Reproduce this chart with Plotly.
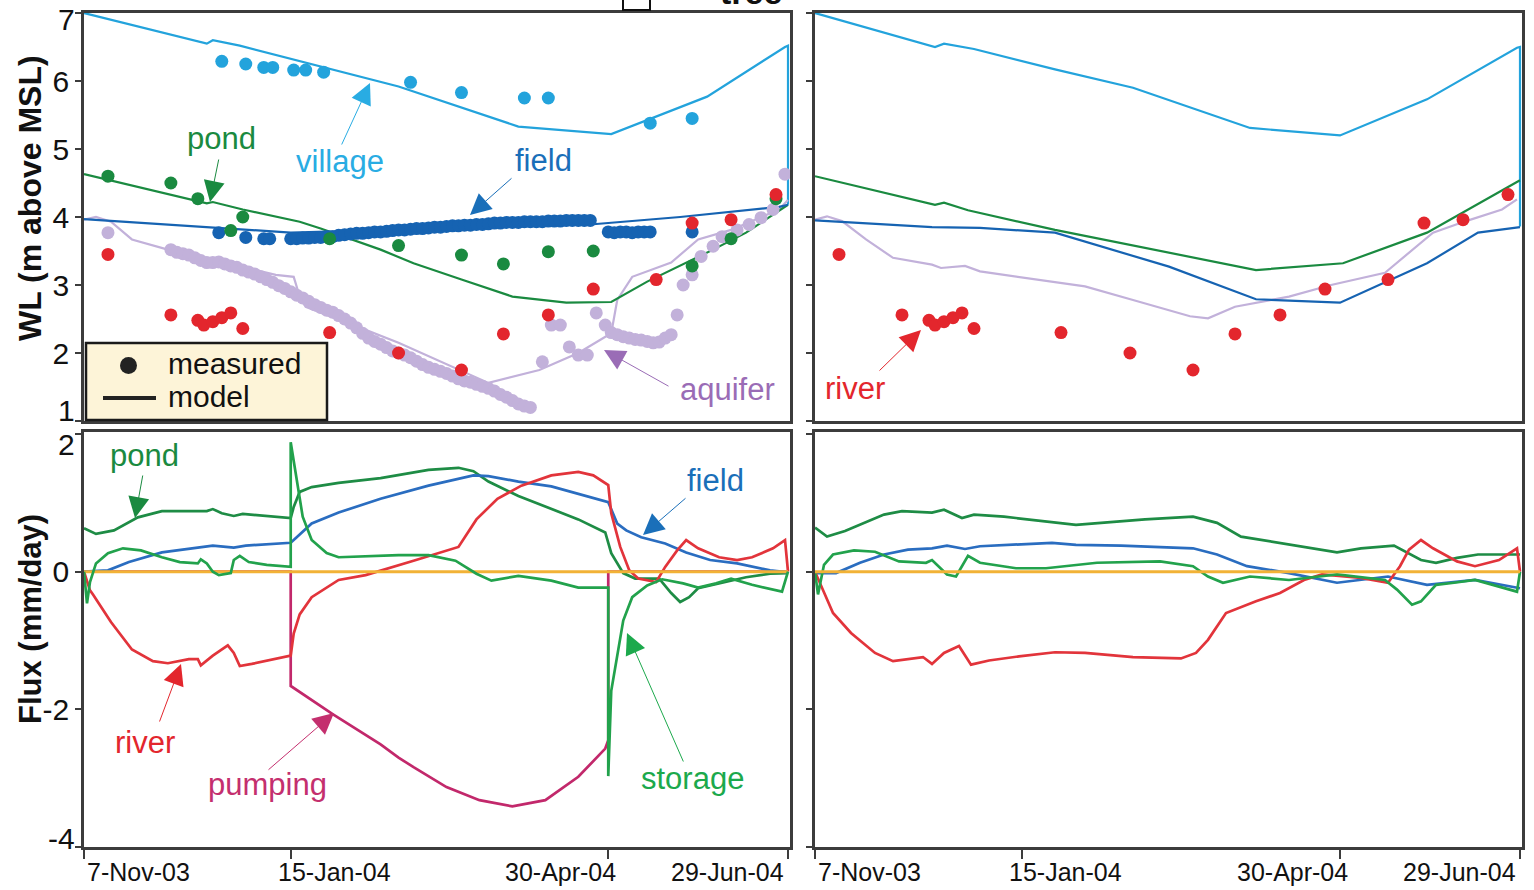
import pandas as pd
import plotly.graph_objects as go

# ------------------------------------------------------------------ data
START = pd.Timestamp("2003-11-07")
END_VIEW = "2004-06-29 16:00"
TICK_DATES = ["2003-11-07", "2004-01-15", "2004-04-30", "2004-06-29"]
TICK_LABELS = ["7-Nov-03", "15-Jan-04", "30-Apr-04", "29-Jun-04"]

# ---- Site 1 water levels (m above MSL): measured (days after 7-Nov-03)
VILLAGE_OBS_DAY = [46, 54, 60, 63, 70, 74, 80, 109, 126, 147, 155, 189, 203]
VILLAGE_OBS = [6.29, 6.25, 6.20, 6.20, 6.16, 6.16, 6.13, 5.98, 5.83, 5.75, 5.75, 5.38, 5.45]

FIELD_OBS_DAY = [45, 54, 60, 62,
                 69, 71, 73, 75, 77, 79, 81, 83, 85, 87, 89, 91, 93, 95, 97, 99,
                 101, 103, 105, 107, 109, 111, 113, 115, 117, 119, 121, 123, 125,
                 127, 129, 131, 133, 135, 137, 139, 141, 143, 145, 147, 149, 151,
                 153, 155, 157, 159, 161, 163, 165, 167, 169,
                 175, 177, 179, 181, 183, 185, 187, 189, 203]
FIELD_OBS = [3.77, 3.70, 3.68, 3.68,
             3.68, 3.68, 3.69, 3.69, 3.70, 3.70, 3.71, 3.71, 3.73, 3.74,
             3.75, 3.76, 3.76, 3.77, 3.78, 3.78, 3.79, 3.80, 3.81, 3.81,
             3.82, 3.83, 3.83, 3.84, 3.85, 3.85, 3.86, 3.87, 3.87, 3.88,
             3.88, 3.89, 3.89, 3.90, 3.91, 3.91, 3.92, 3.92, 3.92, 3.93,
             3.93, 3.93, 3.93, 3.94, 3.94, 3.94, 3.95, 3.95, 3.95, 3.95, 3.95,
             3.78, 3.77, 3.78, 3.78, 3.77, 3.78, 3.78, 3.78, 3.78]

POND_OBS_DAY = [8, 29, 38, 49, 53, 82, 105, 126, 140, 155, 170, 203, 216, 231]
POND_OBS = [4.60, 4.50, 4.27, 3.80, 4.00, 3.68, 3.58, 3.44, 3.31, 3.49, 3.50, 3.28, 3.68, 4.27]

AQUIFER_OBS_DAY = [8,
                   29, 31, 33, 35, 37, 39, 41, 43, 45, 47, 49, 51, 53, 55, 57, 59,
                   61, 63, 65, 67, 69, 71, 73, 75, 77, 79, 81, 83, 85, 87, 89, 91,
                   93, 95, 97, 99, 101, 103, 105, 107, 109, 111, 113, 115, 117, 119,
                   121, 123, 125, 127, 129, 131, 133, 135, 137, 139, 141, 143, 145,
                   147, 149,
                   153, 156, 159, 162, 165, 168, 171, 174, 176, 178, 180, 182, 184,
                   186, 188, 190, 192, 194, 196, 198, 200, 203, 206, 210, 213, 218,
                   222, 226, 230, 234]
AQUIFER_OBS = [3.77,
               3.52, 3.48, 3.46, 3.44, 3.40, 3.36, 3.33, 3.33, 3.34, 3.31,
               3.28, 3.26, 3.22, 3.19, 3.16, 3.12, 3.08, 3.04, 2.99, 2.95,
               2.90, 2.85, 2.81, 2.76, 2.71, 2.67, 2.63, 2.60, 2.55, 2.50,
               2.44, 2.37, 2.29, 2.22, 2.17, 2.13, 2.08, 2.03, 2.00, 1.97,
               1.93, 1.88, 1.83, 1.79, 1.76, 1.73, 1.70, 1.66, 1.62, 1.59,
               1.57, 1.54, 1.51, 1.48, 1.44, 1.39, 1.35, 1.30, 1.25, 1.22,
               1.20,
               1.87, 2.41, 2.41, 2.09, 1.97, 1.97, 2.59, 2.41, 2.30, 2.27,
               2.24, 2.22, 2.20, 2.19, 2.17, 2.15, 2.16, 2.22, 2.27, 2.56,
               3.00, 3.15, 3.42, 3.57, 3.71, 3.81, 3.89, 3.99, 4.11, 4.63]

# river level measured (same gauge used for both sites)
RIVER_OBS_DAY = [8, 29, 38, 40, 43, 46, 49, 53, 82, 105, 126, 140, 155, 170, 191, 203, 216, 231]
RIVER_OBS = [3.45, 2.56, 2.48, 2.41, 2.46, 2.52, 2.59, 2.36, 2.30, 2.00, 1.75, 2.28,
             2.56, 2.94, 3.08, 3.91, 3.96, 4.33]

# ---- Site 1 water levels: model
VILLAGE_1_DAY = [0, 40, 41, 43, 52, 105, 145, 176, 208, 234, 235, 235]
VILLAGE_1 = [7.00, 6.57, 6.55, 6.60, 6.52, 5.92, 5.33, 5.22, 5.77, 6.50, 6.52, 4.18]
FIELD_1_DAY = [0, 43, 69, 169, 199, 232, 235]
FIELD_1 = [3.97, 3.85, 3.77, 3.89, 4.00, 4.15, 4.18]
POND_1_DAY = [0, 39, 41, 43, 53, 72, 79, 99, 110, 126, 143, 161, 176, 188, 210, 221, 235]
POND_1 = [4.63, 4.23, 4.20, 4.22, 4.11, 3.93, 3.83, 3.52, 3.32, 3.08, 2.83, 2.74, 2.75,
          3.05, 3.52, 3.77, 4.18]
AQUIFER_1_DAY = [0, 4, 9, 16, 28, 41, 50, 64, 70, 72, 74, 83, 94, 105, 120, 135, 152,
                 165, 176, 178, 183, 196, 205, 216, 232, 235]
AQUIFER_1 = [3.96, 4.00, 3.93, 3.67, 3.52, 3.37, 3.30, 3.15, 3.12, 2.83, 2.68, 2.53,
             2.34, 2.15, 1.85, 1.56, 1.75, 2.00, 2.29, 2.78, 3.12, 3.33, 3.67, 3.81,
             4.11, 4.25]

# ---- Site 2 water levels: model
VILLAGE_2_DAY = [0, 40, 43, 53, 80, 106, 145, 175, 204, 234, 235, 235]
VILLAGE_2 = [7.00, 6.50, 6.55, 6.47, 6.17, 5.90, 5.31, 5.20, 5.73, 6.49, 6.50, 3.86]
POND_2_DAY = [0, 40, 43, 51, 80, 118, 147, 176, 204, 235]
POND_2 = [4.60, 4.18, 4.21, 4.10, 3.81, 3.47, 3.22, 3.32, 3.77, 4.54]
FIELD_2_DAY = [0, 39, 55, 80, 118, 147, 175, 204, 221, 235]
FIELD_2 = [3.95, 3.85, 3.84, 3.77, 3.27, 2.79, 2.74, 3.32, 3.77, 3.85]
AQUIFER_2_DAY = [0, 4, 9, 17, 26, 39, 42, 50, 55, 80, 90, 106, 125, 131, 140, 158, 172,
                 190, 206, 217, 229, 234]
AQUIFER_2 = [3.96, 4.01, 3.94, 3.67, 3.40, 3.30, 3.25, 3.28, 3.20, 3.05, 2.98, 2.78,
             2.54, 2.51, 2.68, 2.83, 3.00, 3.18, 3.77, 3.94, 4.11, 4.26]

# ---- Site 1 fluxes (mm/day)
POND_FLUX_1_DAY = [0, 4, 10, 18, 26, 32, 41, 43, 46, 50, 53, 69, 70, 72, 76, 85, 99, 115,
                   125, 130, 135, 145, 156, 165, 174, 176, 180, 184, 192, 196, 199, 202,
                   205, 212, 221, 229, 235]
POND_FLUX_1 = [0.63, 0.55, 0.60, 0.79, 0.88, 0.88, 0.88, 0.91, 0.85, 0.81, 0.84, 0.78,
               0.94, 1.16, 1.23, 1.29, 1.36, 1.48, 1.51, 1.46, 1.31, 1.10, 0.91, 0.76,
               0.57, 0.27, -0.02, -0.10, -0.10, -0.31, -0.44, -0.37, -0.24, -0.17,
               -0.08, -0.03, -0.02]
STORAGE_1_DAY = [0, 1, 2, 4, 8, 13, 19, 26, 32, 38, 39, 41, 43, 45, 49, 50, 52, 55, 61,
                 69, 69, 71, 73, 76, 81, 85, 105, 115, 124, 131, 136, 145, 156, 165,
                 175, 175, 176, 180, 183, 188, 193, 200, 205, 211, 216, 223, 233, 235]
STORAGE_1 = [0.00, -0.46, -0.15, 0.12, 0.27, 0.34, 0.31, 0.21, 0.14, 0.12, 0.18, 0.12,
             0.00, -0.05, -0.02, 0.17, 0.23, 0.14, 0.10, 0.07, 1.88, 1.33, 0.80, 0.46,
             0.27, 0.21, 0.24, 0.24, 0.16, -0.03, -0.13, -0.06, -0.13, -0.23, -0.23,
             -2.97, -1.73, -0.71, -0.37, -0.20, -0.11, -0.17, -0.23, -0.17, -0.10,
             -0.19, -0.29, 0.00]
FIELD_FLUX_1_DAY = [0, 8, 15, 26, 43, 50, 54, 69, 71, 76, 85, 99, 115, 130, 135, 145,
                    156, 165, 175, 178, 181, 186, 194, 201, 209, 218, 229, 235]
FIELD_FLUX_1 = [0.00, 0.02, 0.14, 0.28, 0.38, 0.35, 0.38, 0.42, 0.50, 0.70, 0.86, 1.06,
                1.25, 1.40, 1.39, 1.31, 1.24, 1.13, 1.01, 0.70, 0.60, 0.50, 0.41, 0.28,
                0.17, 0.12, 0.02, -0.01]
RIVER_FLUX_1_DAY = [0, 2, 3, 9, 16, 23, 28, 35, 38, 39, 43, 48, 50, 52, 56, 69, 70, 72,
                    76, 85, 94, 105, 110, 125, 131, 138, 146, 156, 165, 170, 175, 176,
                    179, 182, 185, 191, 194, 198, 201, 205, 212, 218, 223, 230, 234, 235]
RIVER_FLUX_1 = [0.00, -0.27, -0.33, -0.73, -1.13, -1.30, -1.33, -1.27, -1.27, -1.36,
                -1.22, -1.07, -1.18, -1.37, -1.34, -1.22, -0.90, -0.62, -0.37, -0.12,
                -0.05, 0.09, 0.16, 0.36, 0.76, 1.06, 1.25, 1.40, 1.45, 1.40, 1.26, 0.85,
                0.36, 0.02, -0.10, -0.15, 0.07, 0.31, 0.46, 0.34, 0.21, 0.17, 0.21, 0.34,
                0.46, 0.00]
PUMPING_1_DAY = [0, 69, 69, 83, 99, 105, 110, 121, 132, 143, 154, 165, 174, 175, 175, 235]
PUMPING_1 = [0.00, 0.00, -1.66, -2.07, -2.51, -2.70, -2.84, -3.13, -3.32, -3.41, -3.32,
             -2.98, -2.57, -2.45, 0.00, 0.00]

# ---- Site 2 fluxes (mm/day)
POND_FLUX_2_DAY = [0, 4, 10, 23, 29, 39, 43, 49, 53, 63, 87, 110, 126, 134, 142, 158,
                   174, 182, 193, 202, 207, 214, 221, 235]
POND_FLUX_2 = [0.64, 0.51, 0.59, 0.83, 0.88, 0.86, 0.90, 0.78, 0.83, 0.80, 0.68, 0.76,
               0.80, 0.71, 0.51, 0.39, 0.28, 0.34, 0.38, 0.17, 0.13, 0.20, 0.25, 0.25]
STORAGE_2_DAY = [0, 1, 3, 6, 13, 20, 28, 37, 39, 44, 47, 51, 55, 67, 77, 94, 115, 126,
                 131, 136, 145, 158, 174, 190, 194, 199, 202, 207, 213, 220, 234, 235]
STORAGE_2 = [0.00, -0.33, 0.10, 0.25, 0.31, 0.29, 0.15, 0.13, 0.17, -0.04, -0.07, 0.23,
             0.13, 0.05, 0.05, 0.13, 0.15, 0.08, -0.07, -0.16, -0.07, -0.12, -0.04,
             -0.12, -0.26, -0.48, -0.43, -0.19, -0.16, -0.12, -0.29, 0.00]
FIELD_FLUX_2_DAY = [0, 7, 15, 23, 31, 39, 44, 50, 55, 71, 79, 87, 102, 126, 134, 144,
                    158, 174, 182, 191, 204, 220, 235]
FIELD_FLUX_2 = [-0.02, -0.02, 0.13, 0.25, 0.32, 0.34, 0.38, 0.33, 0.37, 0.41, 0.42, 0.39,
                0.38, 0.34, 0.25, 0.08, -0.02, -0.16, -0.12, -0.07, -0.19, -0.12, -0.24]
RIVER_FLUX_2_DAY = [0, 6, 12, 20, 26, 36, 39, 43, 48, 52, 58, 68, 80, 90, 106, 122, 127,
                    131, 137, 147, 155, 163, 169, 175, 182, 191, 195, 198, 202, 206, 214,
                    220, 228, 234, 235]
RIVER_FLUX_2 = [0.00, -0.60, -0.89, -1.18, -1.30, -1.24, -1.34, -1.18, -1.08, -1.35,
                -1.29, -1.23, -1.17, -1.18, -1.24, -1.26, -1.18, -0.99, -0.60, -0.43,
                -0.31, -0.12, -0.04, -0.06, -0.09, -0.16, 0.08, 0.32, 0.46, 0.34, 0.15,
                0.08, 0.17, 0.34, 0.00]
ZERO_DAY = [0, 235]
ZERO_FLUX = [0.0, 0.0]

# ------------------------------------------------------------------ style
W, H = 1534, 890
FONT = "Liberation Sans, Arial, Helvetica, sans-serif"
C_VILLAGE = "#23a3dc"
C_FIELD = "#1663b2"
C_POND = "#1a8a40"
C_AQUIFER = "#c2b1da"
C_RIVER = "#e3262d"
C_FIELD_FLUX = "#2a6dc0"
C_RIVER_FLUX = "#e2343b"
C_POND_FLUX = "#1e8c45"
C_STORAGE = "#22a24c"
C_PUMP = "#c2286b"
C_ZERO = "#f2b236"
FRAME = "#3c3c3c"


def dates(days):
    return [START + pd.Timedelta(days=d) for d in days]


def px(x):
    return x / W


def py(y):
    return 1 - y / H


fig = go.Figure()


def line(days, vals, color, xa, ya, width=2.2):
    fig.add_trace(go.Scatter(x=dates(days), y=vals, mode="lines", xaxis=xa, yaxis=ya,
                             line=dict(color=color, width=width), showlegend=False,
                             hoverinfo="skip"))


def dots(days, vals, color, xa, ya, size=13):
    fig.add_trace(go.Scatter(x=dates(days), y=vals, mode="markers", xaxis=xa, yaxis=ya,
                             marker=dict(color=color, size=size, line=dict(width=0)),
                             showlegend=False, hoverinfo="skip"))


# top-left: site 1 water levels
line(VILLAGE_1_DAY, VILLAGE_1, C_VILLAGE, "x", "y")
line(AQUIFER_1_DAY, AQUIFER_1, C_AQUIFER, "x", "y")
line(POND_1_DAY, POND_1, C_POND, "x", "y")
line(FIELD_1_DAY, FIELD_1, C_FIELD, "x", "y")
dots(AQUIFER_OBS_DAY, AQUIFER_OBS, C_AQUIFER, "x", "y")
dots(FIELD_OBS_DAY, FIELD_OBS, C_FIELD, "x", "y")
dots(POND_OBS_DAY, POND_OBS, C_POND, "x", "y")
dots(VILLAGE_OBS_DAY, VILLAGE_OBS, C_VILLAGE, "x", "y")
dots(RIVER_OBS_DAY, RIVER_OBS, C_RIVER, "x", "y")

# top-right: site 2 water levels
line(VILLAGE_2_DAY, VILLAGE_2, C_VILLAGE, "x2", "y2")
line(AQUIFER_2_DAY, AQUIFER_2, C_AQUIFER, "x2", "y2")
line(POND_2_DAY, POND_2, C_POND, "x2", "y2")
line(FIELD_2_DAY, FIELD_2, C_FIELD, "x2", "y2")
dots(RIVER_OBS_DAY, RIVER_OBS, C_RIVER, "x2", "y2")

# bottom-left: site 1 fluxes
FW = 2.7
line(PUMPING_1_DAY, PUMPING_1, C_PUMP, "x3", "y3", FW)
line(POND_FLUX_1_DAY, POND_FLUX_1, C_POND_FLUX, "x3", "y3", FW)
line(FIELD_FLUX_1_DAY, FIELD_FLUX_1, C_FIELD_FLUX, "x3", "y3", FW)
line(RIVER_FLUX_1_DAY, RIVER_FLUX_1, C_RIVER_FLUX, "x3", "y3", FW)
line(ZERO_DAY, ZERO_FLUX, C_ZERO, "x3", "y3", 3)
line(STORAGE_1_DAY, STORAGE_1, C_STORAGE, "x3", "y3", FW)

# bottom-right: site 2 fluxes
line(POND_FLUX_2_DAY, POND_FLUX_2, C_POND_FLUX, "x4", "y4", FW)
line(FIELD_FLUX_2_DAY, FIELD_FLUX_2, C_FIELD_FLUX, "x4", "y4", FW)
line(RIVER_FLUX_2_DAY, RIVER_FLUX_2, C_RIVER_FLUX, "x4", "y4", FW)
line(STORAGE_2_DAY, STORAGE_2, C_STORAGE, "x4", "y4", FW)
line(ZERO_DAY, ZERO_FLUX, C_ZERO, "x4", "y4", 3)

# ------------------------------------------------------------------ axes
XL = [px(84), px(790)]
XR = [px(815), px(1522)]
YT = [py(421), py(13)]
YB = [py(847), py(432)]
XRANGE = [TICK_DATES[0], END_VIEW]

common = dict(showline=True, mirror=True, linecolor=FRAME, linewidth=2.5,
              showgrid=False, zeroline=False)


def xaxis(domain, anchor, ticks):
    d = dict(common, domain=domain, anchor=anchor, type="date", range=XRANGE,
             tickvals=TICK_DATES, showticklabels=False)
    if ticks:
        d.update(ticks="outside", ticklen=9, tickwidth=2, tickcolor=FRAME)
    else:
        d.update(ticks="")
    return d


def yaxis(domain, anchor, rng, vals, text):
    d = dict(common, domain=domain, anchor=anchor, range=rng, tickvals=vals,
             ticks="outside", ticklen=6, tickwidth=2, tickcolor=FRAME,
             tickfont=dict(size=30, color="#111", family=FONT))
    if text is None:
        d.update(showticklabels=False)
    else:
        d.update(ticktext=text)
    return d


fig.update_layout(
    width=W, height=H,
    margin=dict(l=0, r=0, t=0, b=0),
    paper_bgcolor="white", plot_bgcolor="white",
    font=dict(family=FONT, color="#111"),
    showlegend=False,
    xaxis=xaxis(XL, "y", False),
    xaxis2=xaxis(XR, "y2", False),
    xaxis3=xaxis(XL, "y3", True),
    xaxis4=xaxis(XR, "y4", True),
    yaxis=yaxis(YT, "x", [1, 7], [1, 2, 3, 4, 5, 6, 7], ["", "2", "3", "4", "5", "6", ""]),
    yaxis2=yaxis(YT, "x2", [1, 7], [1, 2, 3, 4, 5, 6, 7], None),
    yaxis3=yaxis(YB, "x3", [-4.0, 2.03], [-4, -2, 0, 2], ["", "-2", "0", ""]),
    yaxis4=yaxis(YB, "x4", [-4.0, 2.03], [-4, -2, 0, 2], None),
)

ann = []

# x tick labels (placed as in the original, offset from the tick marks)
LABEL_POS = [("left", 1), ("left", -15), ("right", 10), ("right", -2)]
for xa in ("x3", "x4"):
    for dte, lab, (anc, sh) in zip(TICK_DATES, TICK_LABELS, LABEL_POS):
        ann.append(dict(x=dte, xref=xa, y=py(872), yref="paper", text=lab,
                        showarrow=False, xanchor=anc, yanchor="middle", xshift=sh,
                        font=dict(size=25, color="#111", family=FONT)))

# shifted y tick labels at panel edges
for txt, yy in (("7", 19), ("1", 410), ("2", 444), ("-4", 838)):
    ann.append(dict(x=px(77), y=py(yy), xref="paper", yref="paper", text=txt,
                    showarrow=False, xanchor="right", yanchor="middle",
                    font=dict(size=30, color="#111", family=FONT)))

# axis titles
ann.append(dict(x=px(30), y=py(198), xref="paper", yref="paper", text="<b>WL (m above MSL)</b>",
                textangle=-90, showarrow=False, xanchor="center", yanchor="middle",
                font=dict(size=32, color="#111", family=FONT)))
ann.append(dict(x=px(30), y=py(619), xref="paper", yref="paper", text="<b>Flux (mm/day)</b>",
                textangle=-90, showarrow=False, xanchor="center", yanchor="middle",
                font=dict(size=31, color="#111", family=FONT)))


def label(txt, cx, cy, color):
    ann.append(dict(x=px(cx), y=py(cy), xref="paper", yref="paper", text=txt,
                    showarrow=False, xanchor="center", yanchor="middle",
                    font=dict(size=31, color=color, family=FONT)))


def arrow(tail, head, color):
    ann.append(dict(x=px(head[0]), y=py(head[1]), xref="paper", yref="paper", text="",
                    showarrow=True, ax=tail[0] - head[0], ay=tail[1] - head[1],
                    arrowhead=2, arrowsize=4.2, arrowwidth=1, arrowcolor=color,
                    standoff=0, startstandoff=0))


label("pond", 221, 138, C_POND)
arrow((219, 158), (210, 202), C_POND)
label("village", 340, 162, "#29ace3")
arrow((341, 146), (370, 83), "#29ace3")
label("field", 543, 160, "#1a6fb9")
arrow((513, 177), (470, 215), "#1a6fb9")
label("aquifer", 727, 390, "#9a6cb6")
arrow((670, 387), (604, 350), "#9a6cb6")
label("river", 855, 388, C_RIVER)
arrow((878, 372), (921, 330), C_RIVER)

label("pond", 144, 455, C_POND)
arrow((143, 474), (135, 518), C_POND)
label("river", 145, 742, C_RIVER)
arrow((159, 723), (181, 664), C_RIVER)
label("pumping", 267, 784, "#c42f6e")
arrow((267, 771), (334, 713), "#c42f6e")
label("field", 715, 480, "#1a6fb9")
arrow((687, 497), (643, 535), "#1a6fb9")
label("storage", 692, 778, "#1ca94c")
arrow((684, 763), (627, 633), "#1ca94c")

# legend box (measured / model)
ann.append(dict(x=px(166), y=py(363), xref="paper", yref="paper", text="measured",
                showarrow=False, xanchor="left", yanchor="middle",
                font=dict(size=30, color="#111", family=FONT)))
ann.append(dict(x=px(166), y=py(397), xref="paper", yref="paper", text="model",
                showarrow=False, xanchor="left", yanchor="middle",
                font=dict(size=30, color="#111", family=FONT)))

# cropped fragment of a neighbouring legend at the very top
ann.append(dict(x=px(718), y=py(13), xref="paper", yref="paper", text="<b>tree</b>",
                showarrow=False, xanchor="left", yanchor="bottom",
                font=dict(size=34, color="#111", family=FONT)))

shapes = [
    dict(type="rect", xref="paper", yref="paper", x0=px(86), x1=px(327), y0=py(420), y1=py(343),
         fillcolor="#fdf4d8", line=dict(color="#1a1a1a", width=2.5), layer="above"),
    dict(type="circle", xref="paper", yref="paper", x0=px(120), x1=px(137), y0=py(374), y1=py(357),
         fillcolor="#222", line=dict(color="#222", width=0), layer="above"),
    dict(type="line", xref="paper", yref="paper", x0=px(103), x1=px(156), y0=py(398), y1=py(398),
         line=dict(color="#222", width=4), layer="above"),
    dict(type="rect", xref="paper", yref="paper", x0=px(623), x1=px(650), y0=py(10), y1=py(-12),
         fillcolor="white", line=dict(color="#111", width=2), layer="above"),
]

fig.update_layout(annotations=ann, shapes=shapes)
fig.write_html("out.html")
